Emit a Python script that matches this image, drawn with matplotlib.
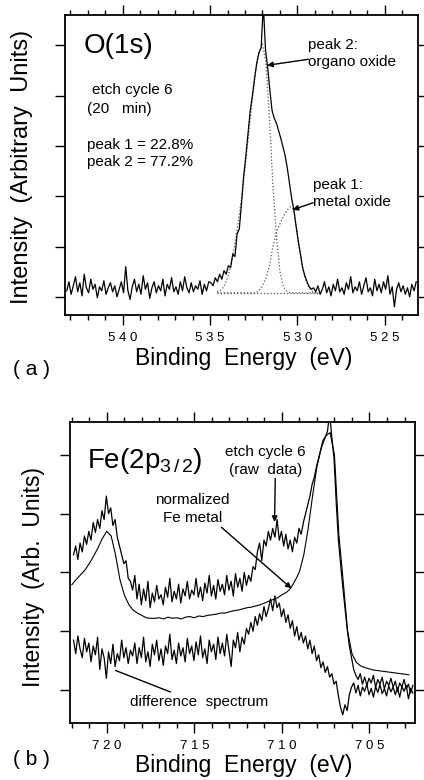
import numpy as np
import matplotlib
matplotlib.use('Agg')
import matplotlib.pyplot as plt
from matplotlib.ticker import MultipleLocator, FuncFormatter, NullLocator

plt.rcParams['font.family'] = ['Liberation Sans', 'DejaVu Sans']
plt.rcParams['mathtext.fontset'] = 'custom'
plt.rcParams['mathtext.rm'] = 'Liberation Sans'
plt.rcParams['mathtext.it'] = 'Liberation Sans:italic'

# ---------------- Panel (a): O(1s) ----------------
o1s_start = 543.2      # eV, first data channel
o1s_step = -0.125      # eV per channel
o1s_counts = [
    0.12, 0.30, 0.05, 0.22, 0.40, 0.10, 0.28, 0.02, 0.45, 0.18,
    0.08, 0.35, 0.15, 0.25, -0.02, 0.20, 0.12, 0.32, 0.05, 0.18,
    0.28, 0.10, 0.22, 0.00, 0.15, 0.30, 0.08, 0.60, 0.12, -0.05,
    0.20, 0.35, 0.10, 0.25, 0.05, 0.42, 0.15, 0.28, -0.03, 0.18,
    0.30, 0.08, 0.22, 0.12, 0.35, 0.02, 0.25, 0.15, 0.38, 0.10,
    0.20, 0.05, 0.30, 0.12, 0.40, 0.18, 0.08, 0.28, 0.10, 0.22,
    0.15, 0.32, 0.05, 0.25, 0.12, 0.30,
    0.28, 0.22, 0.38, 0.30, 0.45, 0.35, 0.52, 0.45, 0.62, 0.58,
    0.85, 0.80, 1.25, 1.35, 1.85, 2.40, 2.80, 3.25, 3.70, 4.00,
    4.35, 4.65, 4.85, 4.95, 5.80, 4.90, 4.55, 4.10, 3.70, 3.55,
    3.45, 3.30, 3.15, 2.98, 2.80, 2.55, 2.25, 1.95, 1.72, 1.40,
    1.10, 0.85, 0.58, 0.42, 0.30, 0.20, 0.15, 0.18,
    0.10, 0.22, 0.05, 0.15, 0.30, 0.08, 0.20, 0.02, 0.25, 0.12,
    0.35, 0.10, 0.18, 0.05, 0.28, 0.15, 0.40, 0.08, 0.20, 0.12,
    0.30, 0.05, 0.22, 0.38, 0.10, 0.18, 0.02, 0.35, 0.12, 0.25,
    0.08, 0.30, 0.15, 0.42, 0.05, 0.20, -0.20, 0.15, 0.28, 0.10,
    0.22, 0.05, 0.18, 0.00, 0.25, 0.12, 0.30,
]

fit_start = 534.6
fit_step = -0.2
fit_baseline = 0.08
fit_peak2 = [0.02, 0.05, 0.12, 0.30, 0.54, 0.92, 1.37, 1.87, 2.47, 3.12,
             3.77, 4.37, 4.77, 4.94, 4.57, 3.47, 2.12, 1.12, 0.42, 0.12,
             0.03, 0.0, 0.0, 0.0, 0.0, 0.0, 0.0, 0.0, 0.0, 0.0]
fit_peak1 = [0.0, 0.0, 0.0, 0.0, 0.0, 0.0, 0.0, 0.0, 0.0, 0.0,
             0.0, 0.0, 0.04, 0.14, 0.30, 0.54, 0.92, 1.20, 1.37, 1.52,
             1.64, 1.71, 1.64, 1.17, 0.67, 0.34, 0.14, 0.04, 0.0, 0.0]

# ---------------- Panel (b): Fe(2p3/2) ----------------
fe_start = 721.9
fe_step = -0.125
fe_raw = [
    2.30, 2.45, 2.22, 2.50, 2.35, 2.62, 2.48, 2.70, 2.55, 2.85,
    2.68, 2.90, 2.75, 3.05, 2.90, 3.30,
    3.00, 3.10, 2.80, 2.90, 2.60, 2.45, 2.30, 2.15, 2.20, 1.90, 1.85,
    1.70, 1.95, 1.55, 1.80, 1.45, 1.72, 1.52, 1.85, 1.40, 1.65,
    1.50, 1.78, 1.55, 1.62, 1.45, 1.75, 1.58, 1.90, 1.50, 1.68,
    1.55, 1.80, 1.48, 1.72, 1.60, 1.85, 1.55, 1.70, 1.62, 1.90,
    1.58, 1.75, 1.52, 1.82, 1.65, 1.95, 1.60, 1.78, 1.55, 1.88,
    1.68, 1.80, 1.62, 1.95, 1.70, 1.85, 1.60, 1.98, 1.75, 1.90,
    1.68, 2.00, 1.78,
    1.95, 1.85, 2.10, 2.05, 2.35, 2.50, 2.20, 2.55, 2.45, 2.70,
    2.55, 2.75, 2.60, 2.90, 2.55, 2.70, 2.45, 2.65, 2.40, 2.55,
    2.35, 2.60, 2.50, 2.75,
    2.65, 2.85, 3.00, 3.15, 3.30, 3.50, 3.62, 3.80, 3.95, 4.10,
    4.25, 4.30, 4.40, 4.70, 4.30, 3.95, 3.20, 2.55, 2.15, 1.75,
    1.40, 1.05, 0.75, 0.55, 0.35,
    0.25, 0.18, 0.28, 0.10, 0.22, 0.08, 0.20, 0.12, 0.25, 0.05,
    0.18, 0.10, 0.22, 0.02, 0.15, 0.08, 0.20, 0.05, 0.15, -0.02,
    0.12, 0.05, 0.18, 0.02, 0.10, -0.05, 0.08,
]
fe_diff = [
    0.85, 0.62, 0.92, 0.70, 0.55, 0.88, 0.65, 0.80, 0.48, 0.75,
    0.60, 0.90, 0.35, 0.70, 0.55, 0.20,
    0.65, 0.45, 0.78, 0.40, 0.62, 0.50, 0.85, 0.55, 0.72, 0.45, 0.68,
    0.58, 0.80, 0.45, 0.72, 0.55, 0.90, 0.48, 0.65, 0.40, 0.78,
    0.60, 0.85, 0.50, 0.70, 0.42, 0.75, 0.62, 0.95, 0.52, 0.68,
    0.45, 0.80, 0.58, 0.72, 0.48, 0.88, 0.62, 0.75, 0.50, 0.82,
    0.60, 0.92, 0.55, 0.70, 0.45, 0.85, 0.65, 0.78, 0.52, 0.90,
    0.62, 0.80, 0.58, 0.95, 0.68, 0.40, 0.85, 0.72, 0.98, 0.65,
    0.90, 0.78, 1.05,
    0.95, 1.15, 1.00, 1.25, 1.10, 1.30, 1.18, 1.42, 1.25, 1.38,
    1.55, 1.35, 1.60, 1.40, 1.48, 1.25, 1.38, 1.15, 1.28, 1.05,
    1.18, 0.92, 1.08, 0.85,
    0.98, 0.80, 0.92, 0.70, 0.85, 0.62, 0.75, 0.50, 0.60, 0.38,
    0.48, 0.30, 0.40, 0.22, 0.28, 0.10, 0.15, -0.10, -0.30, -0.42,
    -0.25, -0.35, -0.08, 0.05, 0.12,
    -0.05, 0.08, -0.10, 0.05, -0.02, 0.10, -0.08, 0.03, -0.12, 0.06,
    -0.04, 0.09, -0.06, 0.02, -0.10, 0.07, -0.03, 0.05, -0.08, 0.04,
    -0.12, 0.06, -0.02, 0.08, -0.15, 0.03, -0.05,
]
metal_start = 722.0
metal_step = -0.25
fe_metal = [
    1.79, 1.88, 1.96, 2.04, 2.15, 2.28, 2.42, 2.58, 2.70, 2.62,
    2.30, 1.88, 1.62, 1.46, 1.36, 1.31, 1.27, 1.23, 1.22, 1.22,
    1.23, 1.21, 1.24, 1.22, 1.23, 1.21, 1.24, 1.25, 1.23, 1.26,
    1.25, 1.27, 1.28, 1.29, 1.31, 1.31, 1.33, 1.35, 1.36, 1.38,
    1.40, 1.41, 1.43, 1.45, 1.48, 1.51, 1.54, 1.57, 1.62, 1.66,
    1.73, 1.86, 2.01, 2.30, 2.75, 3.30, 3.80, 4.12, 4.32, 4.38,
    4.00, 2.65, 1.85, 1.00, 0.62, 0.47, 0.41, 0.38, 0.36, 0.34,
    0.33, 0.32, 0.31, 0.30, 0.29, 0.28, 0.27, 0.26,
]

o1s_ticks = [540, 535, 530, 525]
fe_ticks = [720, 715, 710, 705]

# ---------------- Figure ----------------
fig = plt.figure(figsize=(4.24, 7.80), dpi=100)
axa = fig.add_axes([0.1533, 0.5962, 0.8325, 0.3846])
axb = fig.add_axes([0.1651, 0.0731, 0.8137, 0.3859])


def spaced(v, pos):
    return ' '.join(str(int(round(v))))


def style(ax, xt):
    for s in ax.spines.values():
        s.set_linewidth(1.3)
    ax.tick_params(which='both', direction='out', top=True, right=True,
                   labeltop=False, labelright=False, labelleft=False,
                   width=1.0, colors='black')
    ax.tick_params(which='major', length=7, pad=5, labelsize=9.5)
    ax.tick_params(which='minor', length=3.5)
    ax.set_xticks(xt)
    ax.xaxis.set_minor_locator(MultipleLocator(1))
    ax.yaxis.set_major_locator(MultipleLocator(1))
    ax.yaxis.set_minor_locator(NullLocator())
    ax.xaxis.set_major_formatter(FuncFormatter(spaced))


# panel a
e_a = o1s_start + o1s_step * np.arange(len(o1s_counts))
e_fit = fit_start + fit_step * np.arange(len(fit_peak2))
axa.plot(e_fit, np.full(len(e_fit), fit_baseline), ls=':', color='#555555', lw=0.9)
axa.plot(e_fit, fit_baseline + np.array(fit_peak2), ls=':', color='#555555', lw=0.9)
axa.plot(e_fit, fit_baseline + np.array(fit_peak1), ls=':', color='#555555', lw=0.9)
axa.plot(e_a, o1s_counts, color='black', lw=0.9)
axa.set_xlim(543.3, 523.1)
axa.set_ylim(-0.36, 5.6)
style(axa, o1s_ticks)

axa.text(542.23, 4.98, 'O(1s)', fontsize=20, ha='left', va='center')
axa.text(541.77, 4.11, 'etch cycle 6', fontsize=11, ha='left', va='center')
axa.text(542.06, 3.73, '(20   min)', fontsize=11, ha='left', va='center')
axa.text(542.06, 3.02, 'peak 1 = 22.8%', fontsize=11, ha='left', va='center')
axa.text(542.06, 2.68, 'peak 2 = 77.2%', fontsize=11, ha='left', va='center')
axa.text(529.37, 5.00, 'peak 2:', fontsize=11, ha='left', va='center')
axa.text(529.37, 4.66, 'organo oxide', fontsize=11, ha='left', va='center')
axa.text(529.09, 2.22, 'peak 1:', fontsize=11, ha='left', va='center')
axa.text(529.09, 1.88, 'metal oxide', fontsize=11, ha='left', va='center')
arrow_kw = dict(arrowstyle='-|>', color='black', lw=1.0, mutation_scale=8,
                shrinkA=0, shrinkB=0)
axa.annotate('', xy=(531.73, 4.60), xytext=(529.37, 4.72), arrowprops=arrow_kw)
axa.annotate('', xy=(530.27, 1.73), xytext=(529.09, 1.87), arrowprops=arrow_kw)

# panel b
e_b = fe_start + fe_step * np.arange(len(fe_raw))
e_m = metal_start + metal_step * np.arange(len(fe_metal))
axb.plot(e_m, fe_metal, color='black', lw=0.8)
axb.plot(e_b, fe_raw, color='black', lw=0.9)
axb.plot(e_b, fe_diff, color='black', lw=0.9)
axb.set_xlim(722.1, 702.4)
axb.set_ylim(-0.56, 4.56)
style(axb, fe_ticks)

axb.text(721.14, 3.90, r'Fe(2p$_{3\,/\,2}$)', fontsize=20, ha='left', va='center')
axb.text(710.93, 4.05, 'etch cycle 6', fontsize=11, ha='center', va='center')
axb.text(710.93, 3.74, '(raw  data)', fontsize=11, ha='center', va='center')
axb.text(715.09, 3.23, 'normalized', fontsize=11, ha='center', va='center')
axb.text(715.09, 2.93, 'Fe metal', fontsize=11, ha='center', va='center')
axb.text(714.75, -0.20, 'difference  spectrum', fontsize=11, ha='center', va='center')
axb.annotate('', xy=(710.42, 2.86), xytext=(710.38, 3.60), arrowprops=arrow_kw)
axb.annotate('', xy=(709.46, 1.73), xytext=(713.46, 2.77), arrowprops=arrow_kw)
axb.annotate('', xy=(719.64, 0.35), xytext=(716.22, -0.05),
             arrowprops=dict(arrowstyle='-', color='black', lw=1.0))

# axis titles and panel labels
fig.text(0.052, 0.786, 'Intensity  (Arbitrary  Units)', fontsize=17,
         rotation=90, ha='center', va='center')
fig.text(0.575, 0.541, 'Binding  Energy  (eV)', fontsize=16.5, ha='center', va='center')
fig.text(0.080, 0.260, 'Intensity  (Arb.  Units)', fontsize=16.5,
         rotation=90, ha='center', va='center')
fig.text(0.575, 0.018, 'Binding  Energy  (eV)', fontsize=16.5, ha='center', va='center')
fig.text(0.075, 0.526, '( a )', fontsize=15, ha='center', va='center')
fig.text(0.075, 0.026, '( b )', fontsize=15, ha='center', va='center')

fig.savefig('out.png', dpi=100)
